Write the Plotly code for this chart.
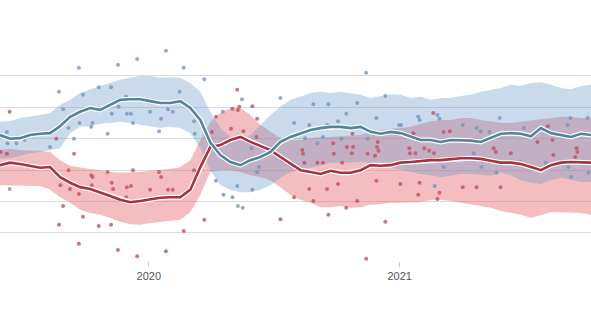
import pandas as pd
import plotly.graph_objects as go

# ---- smoothed averages and uncertainty bands (60 evenly spaced dates) ----
trend_dates = pd.date_range("2019-05-29", "2021-10-07", periods=60)

blue_mid = [45.6, 45.0, 45.1, 45.6, 45.8, 45.9, 47.0, 48.5, 49.3, 49.9,
            49.6, 50.4, 51.2, 51.3, 51.3, 51.0, 50.7, 50.7, 51.0, 49.9,
            48.0, 44.4, 42.4, 41.3, 40.8, 41.6, 42.1, 42.9, 44.5, 45.3,
            45.9, 46.4, 46.7, 46.9, 46.9, 46.7, 46.9, 46.1, 45.8, 46.1,
            45.9, 45.3, 44.8, 44.8, 44.5, 44.8, 44.8, 44.7, 44.5, 45.1,
            45.8, 45.9, 45.8, 45.4, 46.7, 45.9, 45.6, 45.3, 45.8, 45.6]
blue_hi = [47.7, 47.8, 48.3, 48.5, 48.8, 49.1, 50.4, 51.2, 52.3, 52.9,
           53.4, 54.0, 54.4, 54.7, 55.0, 55.0, 54.7, 54.8, 54.7, 53.9,
           52.5, 49.3, 46.7, 45.3, 44.8, 45.6, 47.2, 48.8, 50.1, 51.2,
           51.7, 52.3, 52.5, 52.3, 52.5, 52.3, 52.0, 51.5, 51.8, 52.1,
           52.0, 51.5, 51.7, 51.2, 51.5, 51.5, 51.8, 52.0, 52.5, 52.8,
           53.1, 53.6, 53.4, 53.9, 54.0, 53.6, 53.1, 52.9, 53.4, 53.6]
blue_lo = [41.9, 41.9, 42.3, 42.7, 42.9, 43.2, 43.5, 45.9, 46.9, 47.0,
           47.4, 47.5, 47.7, 47.5, 47.2, 46.9, 46.7, 46.9, 46.7, 45.9,
           43.5, 40.0, 37.6, 36.9, 36.5, 36.5, 36.9, 37.6, 38.8, 39.7,
           40.0, 40.4, 40.8, 41.2, 41.2, 41.3, 41.3, 41.2, 40.8, 40.5,
           40.0, 39.7, 39.4, 39.2, 38.9, 39.1, 39.4, 39.4, 39.2, 39.1,
           39.6, 39.2, 38.4, 38.0, 37.8, 38.4, 38.8, 38.4, 38.1, 38.1]

red_mid = [40.8, 41.2, 41.0, 40.7, 40.4, 40.5, 38.9, 38.0, 37.3, 37.0,
           36.5, 35.9, 35.3, 34.9, 35.1, 35.4, 35.6, 35.7, 35.7, 36.9,
           40.5, 43.7, 44.0, 44.8, 45.3, 44.5, 43.9, 43.2, 42.1, 41.0,
           40.0, 39.7, 39.4, 39.9, 39.6, 39.6, 40.0, 40.8, 40.7, 40.8,
           41.2, 41.3, 41.5, 41.6, 41.6, 41.8, 41.9, 41.9, 41.8, 41.5,
           41.2, 41.2, 41.0, 40.5, 40.0, 40.8, 41.2, 41.3, 41.2, 41.2]
red_hi = [43.2, 43.4, 43.2, 43.2, 43.1, 42.9, 41.6, 40.7, 40.4, 40.2,
          40.0, 39.7, 39.6, 39.6, 39.7, 39.9, 40.0, 40.2, 40.5, 41.6,
          44.8, 47.7, 49.1, 49.9, 49.9, 48.8, 47.2, 46.1, 45.1, 44.8,
          44.8, 45.1, 45.3, 45.3, 45.4, 45.4, 45.6, 46.1, 46.4, 46.6,
          46.7, 46.9, 47.4, 47.8, 48.0, 48.0, 48.3, 48.3, 48.0, 47.7,
          47.5, 47.5, 47.7, 47.8, 48.0, 48.3, 48.5, 48.5, 48.3, 48.3]
red_lo = [37.6, 37.6, 37.6, 37.6, 37.5, 36.9, 35.7, 34.8, 33.7, 33.2,
          32.9, 32.4, 31.8, 31.4, 31.3, 31.6, 31.8, 31.9, 32.1, 33.3,
          36.1, 39.7, 40.0, 40.0, 39.7, 39.2, 38.9, 38.4, 37.2, 36.1,
          35.3, 34.8, 34.1, 34.1, 34.3, 34.0, 34.1, 34.5, 34.6, 34.8,
          34.8, 34.9, 34.9, 35.3, 35.3, 35.1, 34.8, 34.6, 34.3, 34.0,
          33.5, 33.2, 32.9, 32.4, 32.9, 33.3, 33.3, 33.2, 33.2, 32.9]

# ---- individual polls ----
blue_poll_dates = [
    "2019-06-08", "2019-06-09", "2019-06-22", "2019-07-04", "2019-08-10", "2019-08-23",
    "2019-08-29", "2019-09-06", "2019-09-14", "2019-09-21", "2019-09-22", "2019-09-27",
    "2019-10-09", "2019-10-11", "2019-10-20", "2019-11-02", "2019-11-07", "2019-11-08",
    "2019-11-17", "2019-11-18", "2019-11-29", "2019-11-30", "2019-12-06", "2019-12-09",
    "2019-12-15", "2020-01-03", "2020-01-16", "2020-01-19", "2020-01-26", "2020-01-29",
    "2020-02-05", "2020-02-15", "2020-02-21", "2020-03-07", "2020-03-08", "2020-03-22",
    "2020-04-18", "2020-05-16", "2020-04-08", "2020-05-09", "2020-04-19", "2020-05-02",
    "2020-05-10", "2020-05-17", "2020-05-30", "2020-05-31", "2020-06-07", "2020-06-10",
    "2020-07-11", "2020-07-14", "2020-07-31", "2020-08-16", "2020-08-22", "2020-08-28",
    "2020-09-03", "2020-09-11", "2020-09-17", "2020-09-19", "2020-10-03", "2020-10-08",
    "2020-10-15", "2020-10-31", "2020-11-13", "2020-11-15", "2020-11-28", "2020-12-11",
    "2020-12-31", "2021-01-03", "2021-01-28", "2021-01-30", "2021-02-21", "2021-02-25",
    "2021-02-28", "2021-03-06", "2021-04-03", "2021-04-19", "2021-04-23", "2021-04-29",
    "2021-04-30", "2021-05-12", "2021-05-22", "2021-05-27", "2021-06-26", "2021-07-01",
    "2021-08-02", "2021-09-03", "2021-09-04", "2021-09-07", "2021-09-08", "2021-10-02",
    "2021-10-03", "2019-06-12"]
blue_poll_values = [
    46.1, 44.3, 44.3, 44.8, 43.7, 52.5,
    49.7, 46.7, 45.0, 56.3, 47.5, 52.0,
    46.9, 47.5, 53.2, 45.8, 53.2, 49.0,
    56.8, 50.1, 51.7, 49.0, 49.0, 47.5,
    57.7, 49.3, 46.2, 48.2, 59.0, 49.7,
    49.3, 52.5, 56.3, 47.8, 45.8, 54.5,
    49.3, 51.3, 38.3, 37.5, 36.1, 35.7,
    34.3, 34.0, 43.5, 36.9, 39.7, 40.5,
    51.5, 41.6, 47.5, 45.1, 47.2, 50.5,
    44.3, 45.3, 47.2, 50.5, 47.8, 45.0,
    49.0, 50.7, 55.5, 45.0, 48.3, 51.8,
    47.2, 47.2, 48.5, 48.0, 37.5, 48.8,
    48.2, 40.5, 47.2, 42.7, 46.7, 46.2,
    40.5, 46.1, 39.6, 48.3, 41.3, 46.7,
    41.2, 47.2, 40.5, 48.3, 38.9, 48.3,
    39.6, 37.0]

red_poll_dates = [
    "2019-05-30", "2019-06-08", "2019-06-12", "2019-08-19", "2019-09-14", "2019-09-06",
    "2019-10-09", "2019-10-11", "2019-11-02", "2019-12-09", "2020-01-16", "2020-01-19",
    "2020-03-07", "2020-03-08", "2019-08-25", "2019-09-08", "2019-09-21", "2019-10-10",
    "2019-11-08", "2019-11-10", "2019-11-30", "2019-12-06", "2020-01-03", "2020-01-29",
    "2020-02-05", "2019-11-29", "2019-08-29", "2019-09-27", "2019-08-23", "2019-10-20",
    "2019-11-07", "2020-02-21", "2019-09-21", "2019-11-17", "2019-12-15", "2020-01-26",
    "2020-05-09", "2020-05-31", "2020-05-02", "2020-05-10", "2020-05-12", "2020-04-08",
    "2020-06-07", "2020-04-30", "2020-05-18", "2020-04-02", "2020-06-06", "2020-10-24",
    "2020-09-26", "2020-10-16", "2020-10-25", "2020-11-29", "2020-11-30", "2020-08-12",
    "2020-08-13", "2020-09-27", "2020-10-23", "2020-11-15", "2020-11-26", "2020-12-01",
    "2020-08-15", "2020-09-03", "2020-09-11", "2020-10-09", "2020-11-28", "2020-08-22",
    "2020-09-17", "2020-10-03", "2020-07-31", "2020-08-28", "2020-10-31", "2020-10-15",
    "2020-09-19", "2020-03-22", "2020-07-11", "2020-12-11", "2020-11-13", "2021-02-19",
    "2021-03-06", "2021-03-15", "2021-01-21", "2021-08-05", "2021-07-21", "2021-08-12",
    "2021-01-15", "2021-01-24", "2021-01-16", "2021-02-06", "2021-02-13", "2021-02-20",
    "2021-05-18", "2021-05-21", "2021-06-12", "2021-08-13", "2021-09-16", "2021-09-17",
    "2021-09-14", "2021-01-02", "2021-01-30", "2021-01-28", "2021-02-28", "2021-02-25",
    "2021-04-03", "2021-04-23", "2021-05-28"]
red_poll_values = [
    42.9, 42.6, 49.3, 45.0, 42.6, 40.0,
    39.2, 38.9, 39.7, 40.0, 39.7, 38.9,
    40.0, 38.6, 37.6, 37.0, 36.2, 37.6,
    38.0, 37.0, 37.3, 37.5, 36.9, 36.9,
    36.9, 35.7, 34.3, 32.6, 31.3, 31.1,
    31.3, 30.3, 28.3, 27.3, 26.3, 27.1,
    52.8, 50.2, 49.8, 49.6, 50.1, 48.5,
    48.2, 46.6, 46.2, 46.1, 45.3, 45.8,
    44.3, 43.7, 43.7, 43.7, 44.5, 43.2,
    42.6, 42.6, 42.7, 42.6, 42.3, 43.1,
    41.2, 41.2, 41.2, 41.2, 38.3, 37.0,
    37.0, 37.8, 35.7, 35.1, 35.1, 34.0,
    32.9, 32.1, 32.2, 31.8, 25.9, 49.1,
    46.1, 46.2, 45.9, 47.0, 44.5, 44.8,
    43.5, 42.7, 42.7, 43.5, 43.1, 42.7,
    43.5, 42.9, 42.7, 42.4, 43.5, 42.9,
    42.1, 37.8, 38.0, 36.1, 36.4, 35.4,
    37.3, 37.3, 37.3]

grid_values = [30, 35, 40, 45, 50, 55]
x_ticks = ["2020-01-01", "2021-01-01"]
x_tick_labels = ["2020", "2021"]

BLUE_LINE = "#52849a"
RED_LINE = "#a8323f"
BLUE_BAND = "rgba(100,150,200,0.35)"
RED_BAND = "rgba(228,92,98,0.40)"
BLUE_DOT = "rgba(115,150,195,0.80)"
RED_DOT = "rgba(195,80,95,0.80)"

fig = go.Figure()

# bands
for lo, hi, col in [(red_lo, red_hi, RED_BAND), (blue_lo, blue_hi, BLUE_BAND)]:
    fig.add_trace(go.Scatter(x=trend_dates, y=lo, mode="lines",
                             line=dict(width=0),
                             hoverinfo="skip", showlegend=False))
    fig.add_trace(go.Scatter(x=trend_dates, y=hi, mode="lines", fill="tonexty",
                             fillcolor=col, line=dict(width=0),
                             hoverinfo="skip", showlegend=False))

# polls
fig.add_trace(go.Scatter(x=pd.to_datetime(blue_poll_dates), y=blue_poll_values,
                         mode="markers", marker=dict(size=4, color=BLUE_DOT),
                         showlegend=False))
fig.add_trace(go.Scatter(x=pd.to_datetime(red_poll_dates), y=red_poll_values,
                         mode="markers", marker=dict(size=4, color=RED_DOT),
                         showlegend=False))

# trend lines with white halo
for mid, col in [(red_mid, RED_LINE), (blue_mid, BLUE_LINE)]:
    fig.add_trace(go.Scatter(x=trend_dates, y=mid, mode="lines",
                             line=dict(color="white", width=5),
                             hoverinfo="skip", showlegend=False))
    fig.add_trace(go.Scatter(x=trend_dates, y=mid, mode="lines",
                             line=dict(color=col, width=2.6),
                             showlegend=False))

fig.update_layout(
    width=591, height=332,
    margin=dict(l=0, r=0, t=0, b=71),
    paper_bgcolor="white", plot_bgcolor="white",
    showlegend=False,
    xaxis=dict(range=["2019-05-29", "2021-10-07"], type="date",
               tickvals=x_ticks, ticktext=x_tick_labels,
               ticks="outside", ticklen=5, tickcolor="#cccccc", tickwidth=1,
               showgrid=False, showline=False, zeroline=False,
               tickfont=dict(family="Arial, Liberation Sans, sans-serif", size=11, color="#555555")),
    yaxis=dict(range=[25.54, 67.1], tickvals=grid_values, showticklabels=False,
               showgrid=True, gridcolor="#dcdcdc", gridwidth=1,
               zeroline=False, showline=False, ticks=""),
)

fig.write_html("out.html", config={"displayModeBar": False})
